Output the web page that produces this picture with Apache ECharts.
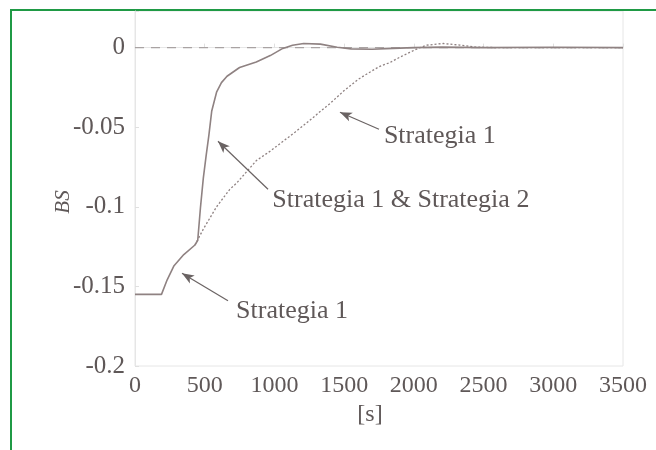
<!DOCTYPE html>
<html>
<head>
<meta charset="utf-8">
<script src="https://cdn.jsdelivr.net/npm/echarts@6/dist/echarts.min.js"></script>
<style>html,body{margin:0;padding:0;background:#fff}#c{width:656px;height:450px}</style>
</head>
<body>
<div id="c"></div>
<script>
// Data
var xTicks = [0, 500, 1000, 1500, 2000, 2500, 3000, 3500];
var yTicks = [-0.2, -0.15, -0.1, -0.05, 0];
var solidX = [0, 190, 230, 280, 350, 430, 450, 470, 490, 510, 530, 550, 585, 620, 660, 750, 870, 970, 1060, 1130, 1210, 1330, 1450, 1550, 1700, 1850, 2000, 2200, 2500, 3000, 3500];
var solidY = [-0.155, -0.155, -0.146, -0.137, -0.130, -0.124, -0.121, -0.100, -0.082, -0.068, -0.055, -0.040, -0.028, -0.022, -0.018, -0.0125, -0.009, -0.005, -0.0005, 0.0015, 0.0026, 0.0022, 0.0002, -0.0008, -0.001, -0.0005, 0, 0.0003, 0, 0.0002, 0];
var dottedX = [430, 490, 585, 680, 730, 780, 870, 970, 1060, 1150, 1250, 1330, 1400, 1500, 1600, 1660, 1750, 1830, 1900, 1970, 2030, 2090, 2210, 2330, 2450, 2600, 3000, 3500];
var dottedY = [-0.124, -0.114, -0.100, -0.089, -0.085, -0.080, -0.071, -0.065, -0.059, -0.053, -0.046, -0.040, -0.035, -0.027, -0.020, -0.0167, -0.012, -0.0093, -0.006, -0.003, -0.0005, 0.0015, 0.0026, 0.0016, 0.0003, 0, 0, 0];
var refX = [0, 3500];
var refY = [0, 0];
// annotations: text, text anchor (data), arrow tail (data), arrow tip (data)
var annTexts = ['Strategia 1', 'Strategia 1 & Strategia 2', 'Strategia 1'];
var annAnchor = [[1785, -0.0555], [985, -0.096], [725, -0.1655]];
var annTail = [[1750, -0.0513], [954, -0.089], [667, -0.159]];
var annTip = [[1470, -0.0406], [595, -0.0588], [337, -0.1418]];

function zip(a, b) { return a.map(function (v, i) { return [v, b[i]]; }); }

var lineColor = '#8f8282';
var textColor = '#5f5858';
var font = 'Liberation Serif';

var chart = echarts.init(document.getElementById('c'));
chart.setOption({
  backgroundColor: '#fff',
  animation: false,
  grid: { left: 135, right: 33, top: 11, bottom: 84, show: true, borderColor: '#e6e6e6', borderWidth: 1 },
  xAxis: {
    type: 'value', min: 0, max: 3500, interval: 500,
    name: '[s]', nameLocation: 'middle', nameGap: 33,
    nameTextStyle: { fontFamily: font, fontSize: 24, color: textColor, padding: [0, 18, 0, 0] },
    axisLine: { show: true, lineStyle: { color: '#e6e6e6' } },
    axisTick: { show: true, inside: true, length: 4, lineStyle: { color: '#e0e0e0' } },
    splitLine: { show: false },
    axisLabel: { fontFamily: font, fontSize: 24, color: textColor, margin: 8,
      formatter: function (v) { return xTicks.indexOf(v) >= 0 ? String(v) : ''; } }
  },
  yAxis: {
    type: 'value', min: -0.2, max: 0.023, interval: 0.05,
    axisLine: { show: true, lineStyle: { color: '#e6e6e6' } },
    axisTick: { show: true, inside: true, length: 4, lineStyle: { color: '#e0e0e0' } },
    splitLine: { show: false },
    axisLabel: { fontFamily: font, fontSize: 25, color: textColor, margin: 10,
      formatter: function (v) {
        for (var i = 0; i < yTicks.length; i++) if (Math.abs(v - yTicks[i]) < 1e-9) return String(yTicks[i]);
        return '';
      } }
  },
  series: [
    { name: 'ref', type: 'line', data: zip(refX, refY), symbol: 'none',
      lineStyle: { color: '#a9a3a3', width: 1.2, type: [9, 7] }, silent: true },
    { name: 'Strategia 1', type: 'line', data: zip(dottedX, dottedY), symbol: 'none',
      lineStyle: { color: lineColor, width: 1.3, type: [2, 2] } },
    { name: 'Strategia 1 & Strategia 2', type: 'line', data: zip(solidX, solidY), symbol: 'none',
      lineStyle: { color: lineColor, width: 1.6 } },
    { name: 'arrows', type: 'line', data: [], symbol: 'none',
      markLine: {
        silent: true, symbol: ['none', 'arrow'], symbolSize: [7, 12],
        label: { show: false },
        lineStyle: { color: '#6a6363', width: 1.2, type: 'solid' },
        data: annTail.map(function (t, i) { return [{ coord: t }, { coord: annTip[i] }]; })
      } }
  ]
});

var g = [
  { type: 'rect', shape: { x: 11, y: 10, width: 700, height: 500 },
    style: { fill: 'none', stroke: '#1f9a45', lineWidth: 2 }, silent: true },
  { type: 'text', x: 63, y: 202, rotation: Math.PI / 2, silent: true,
    style: { text: 'BS', font: 'italic 21px "' + font + '"', fill: textColor, textAlign: 'center', textVerticalAlign: 'middle' } }
];
annTexts.forEach(function (t, i) {
  var p = chart.convertToPixel({ gridIndex: 0 }, annAnchor[i]);
  g.push({ type: 'text', x: p[0], y: p[1], silent: true,
    style: { text: t, font: '26px "' + font + '"', fill: textColor, textAlign: 'left', textVerticalAlign: 'middle' } });
});
chart.setOption({ graphic: g });
</script>
</body>
</html>
